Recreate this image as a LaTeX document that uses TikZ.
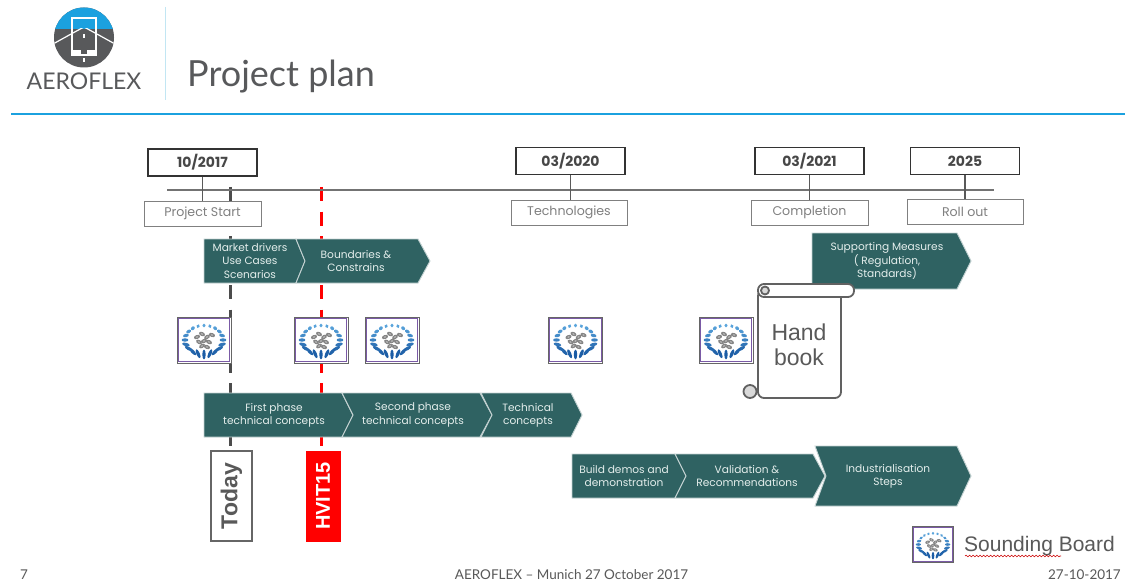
\documentclass[tikz,border=0pt]{standalone}
\usepackage{fontspec}
\setmainfont{Poppins}
\newfontfamily\headfont{Lato}
\newfontfamily\arialfont{Liberation Sans}
\usetikzlibrary{decorations.pathmorphing}
\definecolor{teal1}{HTML}{2F6262}
\definecolor{chevtext}{HTML}{E4EEEC}
\definecolor{skyb}{HTML}{1BA1DF}
\definecolor{logog}{HTML}{58595B}
\definecolor{ringdark}{HTML}{1B5CA5}
\definecolor{ringlight}{HTML}{5AA5DC}
\definecolor{purp}{HTML}{7A5AA6}
\definecolor{txtg}{HTML}{595959}
\newcommand{\fs}[2]{\fontsize{#1}{#2}\selectfont}
\newcommand{\chev}[9]{%
  % name, x0, xright, xtip, ytop, ybottom, notch depth, text centre x, text
  \draw[chevshape] (#2,#5) -- (#3,#5) -- (#4,{(#5+#6)/2}) -- (#3,#6) -- (#2,#6) -- ({#2+#7},{(#5+#6)/2}) -- cycle;
  \node[chevlabel] (#1) at (#8,{(#5+#6)/2}) {#9};}
\tikzset{
  chevshape/.style={fill=teal1,draw=white!72!teal1,line width=.9pt,line join=miter},
  chevlabel/.style={text=chevtext,align=center,font=\fs{10.6}{13.2},inner sep=0pt},
  datebox/.style={draw=black!80,line width=1.4pt,fill=white,text=black!72,minimum width=109pt,minimum height=27pt,inner sep=0pt,font=\bfseries\fs{14}{16}},
  labelbox/.style={draw=black!50,line width=1pt,fill=white,text=black!50,minimum height=25pt,inner sep=0pt,font=\fs{12.6}{15}},
  axisline/.style={draw=black!55,line width=1.2pt},
  stemline/.style={draw=black!65,line width=1.1pt},
  todayline/.style={draw=black!70,line width=3pt,dash pattern=on 14pt off 10.5pt},
  hvitline/.style={draw=red,line width=3pt,dash pattern=on 14pt off 10.5pt},
  sound/.pic={
    \fill[white] (-27,-23) rectangle (27,23);
    \draw[black!60,line width=1pt] (-27,-23) rectangle (27,23);
    \draw[purp,line width=1.2pt] (-25.8,-21.8) rectangle (25.8,21.8);
    \foreach \a in {0,18,...,342}{
      \pgfmathsetmacro\t{50+50*sin(\a)}
      \pgfmathsetmacro\ln{3.4+1.5*sin(\a)}
      \pgfmathsetmacro\ang{atan2(14.5*sin(\a),19*cos(\a))}
      \fill[ringdark!\t!ringlight,rotate around={\ang:({19*cos(\a)},{14.5*sin(\a)})}]
        ({19*cos(\a)},{14.5*sin(\a)}) ellipse ({\ln} and 1.7);
    }
    \foreach \p/\q/\r in {-7/-3/20,-2/-6/-25,3/-3/30,8/-5/-20,-5/2/-30,0/1/20,5/2/-25,-2/6/30,3/7/-20}{
      \fill[black!48,rotate around={\r:(\p,\q)}] (\p,\q) ellipse (3.2 and 2);
      \fill[black!22,rotate around={\r:(\p,\q)}] (\p,\q) ellipse (1.2 and .7);
    }
  }
}
\begin{document}
\begin{tikzpicture}[x=1pt,y=-1pt]
\useasboundingbox (0,0) rectangle (1125,583);
\fill[white] (0,0) rectangle (1125,583);
% logo
\begin{scope}
  \clip (84,37.5) circle (30);
  \fill[logog] (50,0) rectangle (120,70);
  \fill[skyb] (50,0) rectangle (120,29);
  \draw[white,line width=1.2pt] (53,44) -- (72,33.5) -- (84,27) -- (96,33.5) -- (115,44);
  \draw[white,line width=1.4pt] (72,18) rectangle (96,55);
  \fill[skyb] (73,19) rectangle (95,28.5);
  \fill[white] (73,50) rectangle (81,55);
  \fill[white] (87,50) rectangle (95,55);
  \fill[white] (83,34) rectangle (85,38);
  \fill[white] (83,58) rectangle (85,62);
\end{scope}
\node[inner sep=0pt,text=logog,font=\headfont\fs{23}{25}] (logotxt) at (84,81) {AEROFLEX};
\draw[draw=black!15!cyan!25!white,line width=1.5pt] (165.5,7) -- (165.5,100);
\node[inner sep=0pt,anchor=base west,text=logog,font=\headfont\fs{36}{40}] (title) at (187,87) {Project plan};
\draw[skyb,line width=2.2pt] (11,114) -- (1125,114);
% dashed vertical lines
\coordinate (tA) at (230,187); \coordinate (tB) at (230,451);
\coordinate (hA) at (321,187); \coordinate (hB) at (321,451);
\draw[todayline] (tA) -- (tB);
\draw[hvitline] (hA) -- (hB);
% timeline
\coordinate (axL) at (167,190); \coordinate (axR) at (994,190);
\draw[axisline] (axL) -- (axR);
\node[labelbox,minimum width=117pt] (l1) at (202.5,213.5) {Project Start};
\node[labelbox,minimum width=116pt] (l2) at (569,212.5) {Technologies};
\node[labelbox,minimum width=117pt] (l3) at (809.5,212.5) {Completion};
\node[labelbox,minimum width=116pt] (l4) at (965,212) {Roll out};
\node[datebox] (d1) at (202.5,162.5) {10/2017};
\node[datebox] (d2) at (570.5,161) {03/2020};
\node[datebox] (d3) at (809.5,161) {03/2021};
\node[datebox] (d4) at (965,161) {2025};
\draw[stemline] (d1.south) -- (l1.north);
\draw[stemline] (d2.south) -- (d2.south |- l2.north);
\draw[stemline] (d3.south) -- (l3.north);
\draw[stemline] (d4.south) -- (l4.north);
% chevrons row 1
\chev{c1}{204}{296}{305}{239}{283}{0}{250}{Market drivers\\Use Cases\\Scenarios}
\chev{c2}{296}{418}{430}{239}{283}{9}{356}{Boundaries \&\\Constrains}
\chev{c3}{812}{957}{971}{233}{289}{0}{887}{Supporting Measures\\( Regulation,\\Standards)}
% icons
\pic at (204,340) {sound};
\pic at (321,340) {sound};
\pic at (392,340) {sound};
\pic at (575.5,340) {sound};
\pic at (726,340) {sound};
% chevrons row 2
\chev{c4}{204}{342}{353}{393}{437}{0}{274}{First phase\\technical concepts}
\chev{c5}{342}{480}{492}{393}{437}{11}{413}{Second phase\\technical concepts}
\chev{c6}{481}{571}{582}{393}{437}{11}{528}{Technical\\concepts}
% chevrons row 3
\chev{c9}{815}{957}{971}{446}{506}{11}{888}{Industrialisation\\Steps}
\chev{c7}{572}{675}{686}{454}{498}{0}{624}{Build demos and\\demonstration}
\chev{c8}{675}{813}{825}{454}{498}{11}{747}{Validation \&\\Recommendations}
% Today, HVIT15
\node[draw=black!60,line width=1.2pt,fill=white,text=black!65,minimum width=90pt,minimum height=41pt,inner sep=0pt,rotate=90,font=\arialfont\bfseries\fs{23}{25}] (today) at (231.5,496) {Today};
\node[draw=red,fill=red,text=white,minimum width=90pt,minimum height=34pt,inner sep=0pt,rotate=90,font=\arialfont\bfseries\fs{20}{22}] (hvit) at (323,496) {HVIT15};
% scroll
\begin{scope}[draw=black!62,line width=1.8pt,line join=round]
  \filldraw[fill=black!15] (750,391.5) circle (6.5);
  \filldraw[fill=white,rounded corners=6pt] (758,290) -- (758,398) -- (841,398) -- (841,290) -- cycle;
  \filldraw[fill=white,rounded corners=6pt] (758,284) -- (854,284) -- (854,297) -- (758,297) -- cycle;
  \filldraw[fill=black!15] (765,290.5) circle (4);
\end{scope}
\node[inner sep=0pt,align=center,text=txtg,font=\arialfont\fs{23}{25}] (hand) at (799,345) {Hand\\book};
% legend
\pic[scale=.77] at (933,544.5) {sound};
\node[inner sep=0pt,anchor=base west,text=txtg,font=\arialfont\fs{21}{23}] (legend) at (964,551) {Sounding Board};
\coordinate (sqA) at (965,556); \coordinate (sqB) at (1061,556);
\draw[red!80!black,line width=.6pt,decorate,decoration={snake,amplitude=.8pt,segment length=3.5pt}] (sqA) -- (sqB);
% footer
\node[inner sep=0pt,anchor=base west,text=txtg,font=\headfont\fs{13.5}{15}] (f1) at (20,579) {7};
\node[inner sep=0pt,anchor=base,text=txtg,font=\headfont\fs{13.5}{15}] (f2) at (571.5,579) {AEROFLEX – Munich 27 October 2017};
\node[inner sep=0pt,anchor=base east,text=txtg,font=\headfont\fs{13.5}{15}] (f3) at (1121,579) {27-10-2017};
\end{tikzpicture}
\end{document}
